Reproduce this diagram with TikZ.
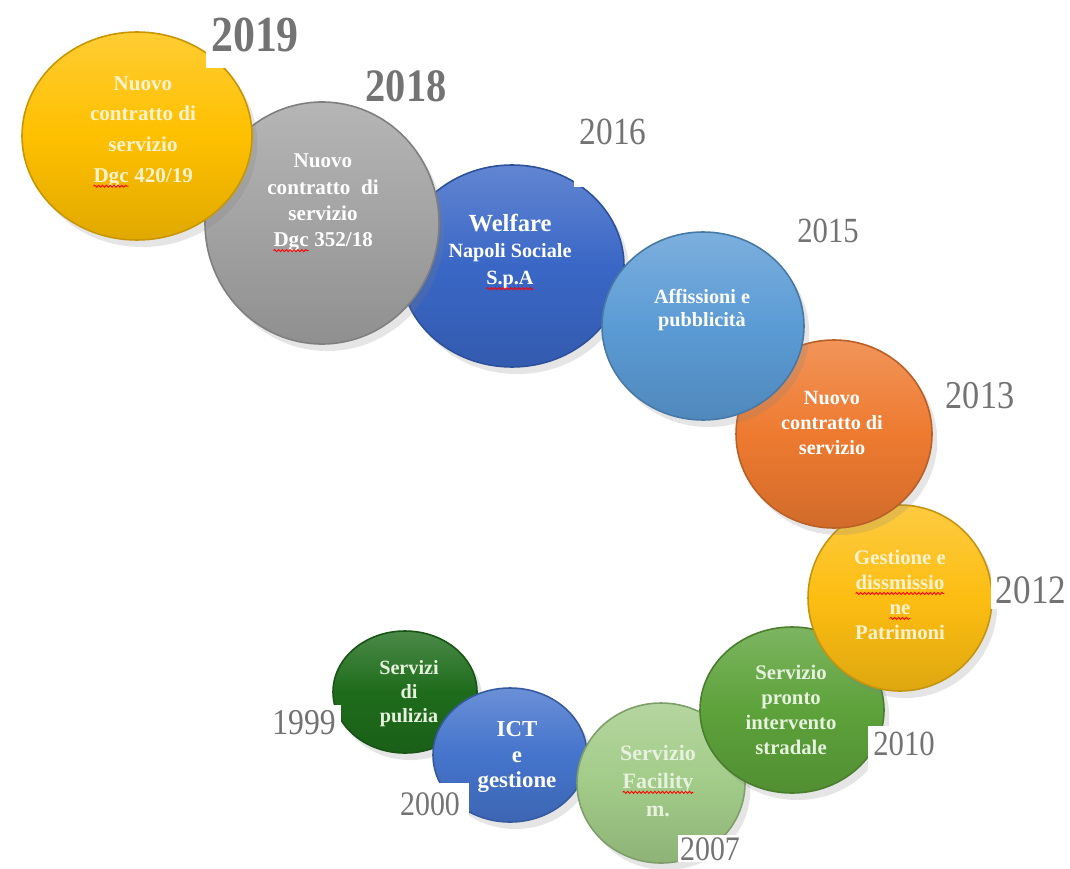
\documentclass[tikz,border=0pt]{standalone}
\usepackage{fontspec}
\setmainfont{Liberation Serif}
\usetikzlibrary{shadows,decorations.pathmorphing}

\definecolor{yrgray}{HTML}{737373}
\definecolor{cgold}{HTML}{FFC000}
\definecolor{csilver}{HTML}{A3A3A3}
\definecolor{croyal}{HTML}{3A67C6}
\definecolor{csky}{HTML}{5B9BD5}
\definecolor{corange}{HTML}{EE7A30}
\definecolor{camber}{HTML}{FDBE12}
\definecolor{cgreen}{HTML}{5DA23A}
\definecolor{cmint}{HTML}{A2CB88}
\definecolor{cblue}{HTML}{4574CC}
\definecolor{cforest}{HTML}{1E6C1B}
\definecolor{cream}{HTML}{FFF3CF}
\definecolor{paleg}{HTML}{E6F1DE}

\newcommand{\sq}[1]{\tikz[x=1cm,y=1cm,baseline=(w.base)]{%
  \node[inner sep=0pt,outer sep=0pt] (w) {#1};
  \draw[red, line width=0.5pt, decorate,
    decoration={snake, segment length=2.2pt, amplitude=0.6pt}]
    ([yshift=-2.2pt]w.base west) -- ([yshift=-2.2pt]w.base east);}}
\newcommand{\yr}[1]{\scalebox{1}[1.15]{#1}}
\newcommand{\fs}[2]{\fontsize{#1}{#2}\selectfont}

\begin{document}
\begin{tikzpicture}[x=0.02cm,y=-0.02cm,
    bub/.style={draw=#1!78!black, line width=0.9pt,
      top color=#1!80!white, bottom color=#1!88!black, middle color=#1,
      drop shadow={shadow xshift=3pt, shadow yshift=-4pt, opacity=0.2}},
    txt/.style={align=center, inner sep=0pt, text=white},
    yrlbl/.style={anchor=base, fill=white, text=yrgray, inner sep=3pt}]
  \useasboundingbox (0,0) rectangle (1070,868);
  \fill[white] (0,0) rectangle (1070,868);

  %% Bubbles, from the back to the front
  \path[bub=cforest] (405,692) ellipse (72 and 61);
  \path[bub=cblue]   (510,755) ellipse (77 and 67);
  \path[bub=cmint]   (661,783) ellipse (84 and 80);
  \path[bub=cgreen]  (792,710) ellipse (92 and 83);
  \path[bub=camber]  (900,598) ellipse (92 and 93);
  \path[bub=corange] (834,434) ellipse (98 and 94);
  \path[bub=croyal]  (512,266) ellipse (112 and 101);
  \path[bub=csky]    (703,326) ellipse (101 and 94);
  \path[bub=csilver] (322,223) ellipse (117 and 121);
  \path[bub=cgold]   (137,136) ellipse (115 and 104);

  %% Texts in the bubbles
  \node[txt, text=paleg, font=\bfseries\fs{11.5}{13.6}] (t1999) at (409,694)
    {Servizi\\di\\pulizia};
  \node[txt, font=\bfseries\fs{13}{14.7}] (t2000) at (517,757)
    {ICT\\e\\gestione};
  \node[txt, text=paleg, font=\bfseries\fs{12.5}{15.9}] (t2007) at (658,781)
    {Servizio\\\sq{Facility}\\m.};
  \node[txt, text=paleg, font=\bfseries\fs{11.8}{14.2}] (t2010) at (791,710)
    {Servizio\\pronto\\intervento\\stradale};
  \node[txt, text=cream, font=\bfseries\fs{11.8}{14.2}] (t2012) at (900,595)
    {Gestione e\\\sq{dissmissio}\\\sq{ne}\\Patrimoni};
  \node[txt, font=\bfseries\fs{11.5}{14.2}] (t2013) at (832,423)
    {Nuovo\\contratto di\\servizio};
  \node[txt, font=\bfseries\fs{11.5}{13.6}] (t2015) at (702,310)
    {Affissioni e\\pubblicità};
  \node[txt, font=\bfseries\fs{11.5}{15.3}] (t2016) at (510,252)
    {{\fs{14}{15.3}Welfare}\\Napoli Sociale\\\sq{S.p.A}};
  \node[txt, font=\bfseries\fs{12}{15}] (t2018) at (323,203)
    {Nuovo\\contratto~~di\\servizio\\\sq{Dgc} 352/18};
  \node[txt, text=cream, font=\bfseries\fs{12}{17.5}] (t2019) at (143,132)
    {Nuovo\\contratto di\\servizio\\\sq{Dgc} 420/19};

  %% Years
  \node[yrlbl, font=\fs{18}{18}] (y1999) at (304,734) {\yr{1999}};
  \node[yrlbl, font=\fs{17}{18}, inner sep=5pt] (y2000) at (430,815) {\yr{2000}};
  \node[yrlbl, font=\fs{17}{18}, inner sep=1pt] (y2007) at (710,860) {\yr{2007}};
  \node[yrlbl, font=\fs{17.5}{18}, text depth=0.74cm] (y2010) at (904,755) {\yr{2010}};
  \node[yrlbl, font=\fs{20}{21}] (y2012) at (1031,603) {\yr{2012}};
  \node[yrlbl, font=\fs{19.5}{20}] (y2013) at (980,408) {\yr{2013}};
  \node[yrlbl, font=\fs{17.5}{18}] (y2015) at (828,242) {\yr{2015}};
  \node[yrlbl, font=\fs{19}{20}, text depth=0.74cm] (y2016) at (613,145) {\yr{2016}};
  \node[yrlbl, font=\bfseries\fs{23}{24}] (y2018) at (406,102) {\yr{2018}};
  \node[yrlbl, font=\bfseries\fs{25}{26}, text depth=0.22cm] (y2019) at (255,52) {\yr{2019}};
\end{tikzpicture}
\end{document}
